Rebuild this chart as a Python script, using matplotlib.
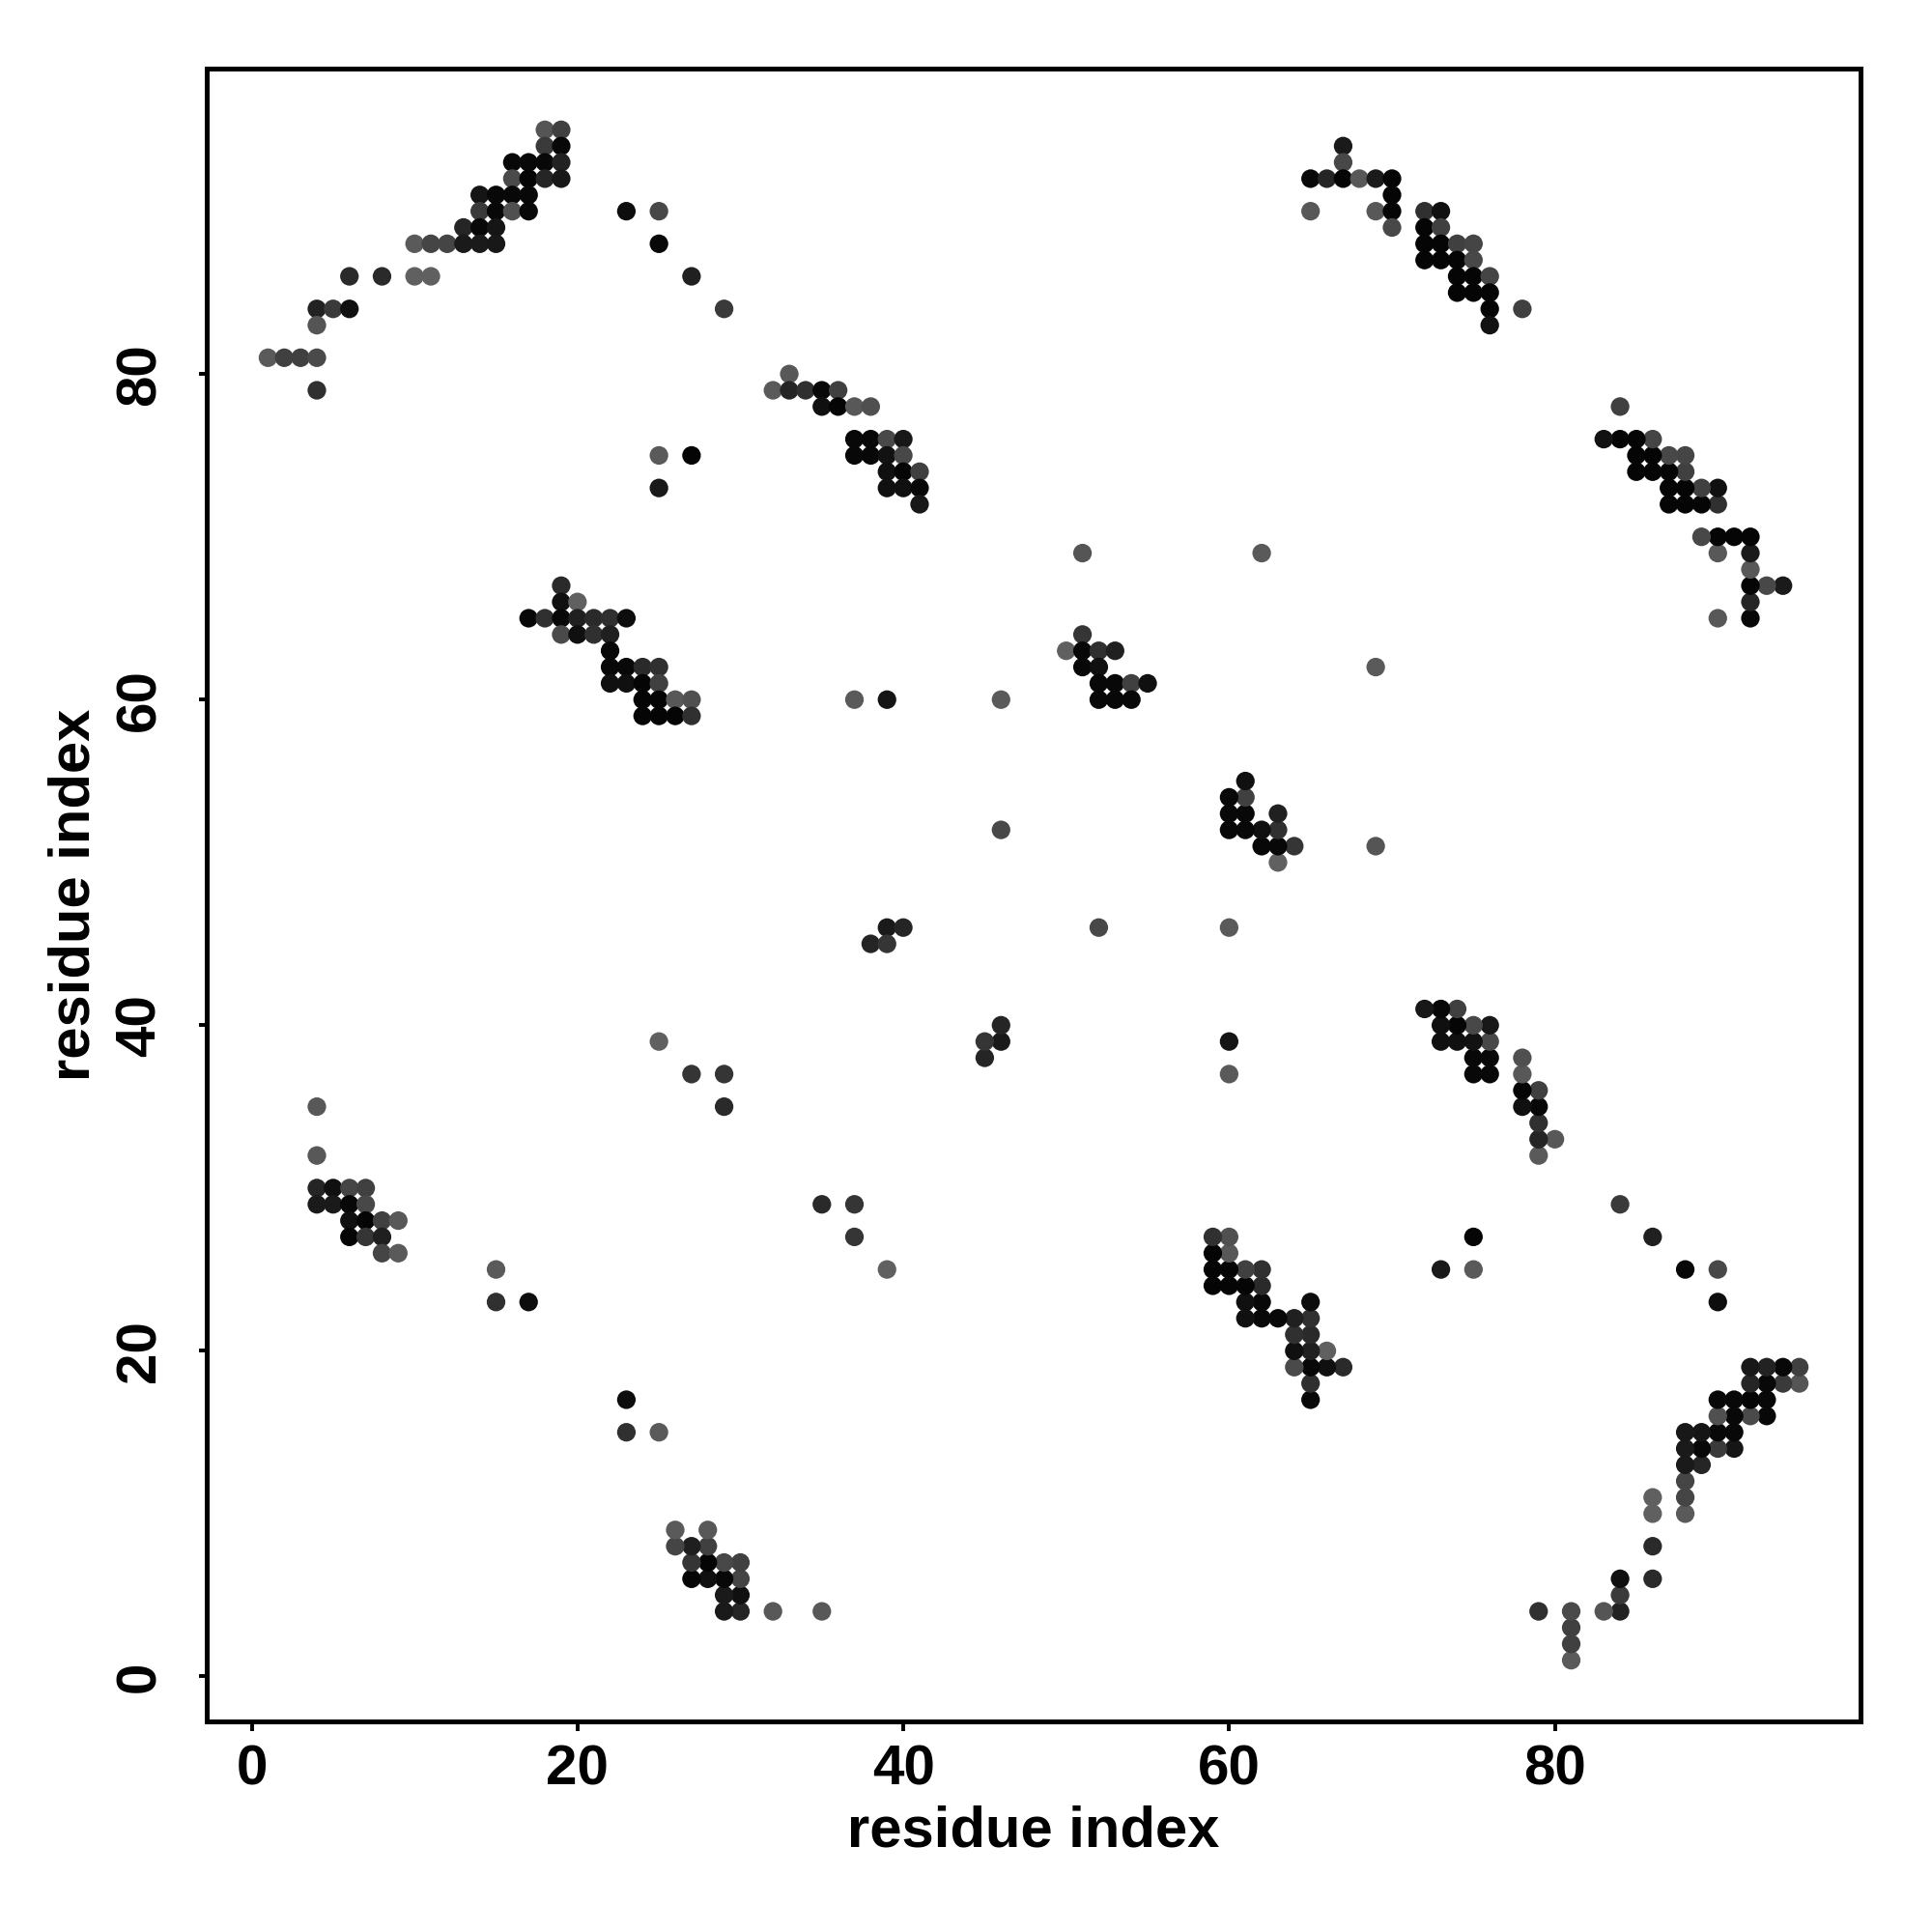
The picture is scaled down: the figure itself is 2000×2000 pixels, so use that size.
import matplotlib
matplotlib.use('Agg')
import matplotlib.pyplot as plt
import numpy as np


# contacts read off the upper-left half of the map (the map is symmetric)
# res_i < res_j ; grey = grey level of the dot (0 = black, 255 = white)
res_i = [18, 19, 18, 19, 16, 17, 18, 19, 16, 17, 18, 19,
         14, 15, 16, 17, 14, 15, 16, 17, 13, 14, 15,
         10, 11, 12, 13, 14, 15, 6, 8, 10, 11, 4, 5, 6, 4,
         1, 2, 3, 4, 4,
         23, 25, 25, 27, 29,
         33, 32, 33, 34, 35, 36, 35, 36, 37, 38,
         37, 38, 39, 40, 37, 38, 39, 40, 39, 40, 41, 39, 40, 41, 41,
         25, 27, 25,
         19, 19, 20, 17, 18, 19, 20, 21, 22, 23, 19, 20, 21, 22, 22,
         22, 23, 24, 25, 22, 23, 24, 25, 24, 25, 26, 27, 24, 25, 26, 27,
         37, 39, 46, 46,
         4, 4, 4, 5, 6, 7, 4, 5, 6, 7, 6, 7, 8, 9, 6, 7, 8, 8, 9,
         15, 15, 17,
         39, 40, 38, 39, 25, 27, 29, 29,
         67, 67, 65, 66, 67, 68, 69, 70, 70, 65, 69, 70, 70,
         72, 73, 72, 73, 72, 73, 74, 75, 72, 73, 74, 75,
         74, 75, 76, 74, 75, 76, 76, 78, 76,
         51, 62, 51, 50, 51, 52, 53, 51, 52, 52, 53, 54, 55, 52, 53, 54]
res_j = [95, 95, 94, 94, 93, 93, 93, 93, 92, 92, 92, 92,
         91, 91, 91, 91, 90, 90, 90, 90, 89, 89, 89,
         88, 88, 88, 88, 88, 88, 86, 86, 86, 86, 84, 84, 84, 83,
         81, 81, 81, 81, 79,
         90, 90, 88, 86, 84,
         80, 79, 79, 79, 79, 79, 78, 78, 78, 78,
         76, 76, 76, 76, 75, 75, 75, 75, 74, 74, 74, 73, 73, 73, 72,
         75, 75, 73,
         67, 66, 66, 65, 65, 65, 65, 65, 65, 65, 64, 64, 64, 64, 63,
         62, 62, 62, 62, 61, 61, 61, 61, 60, 60, 60, 60, 59, 59, 59, 59,
         60, 60, 60, 52,
         35, 32, 30, 30, 30, 30, 29, 29, 29, 29, 28, 28, 28, 28, 27, 27, 27, 26, 26,
         25, 23, 23,
         46, 46, 45, 45, 39, 37, 37, 35,
         94, 93, 92, 92, 92, 92, 92, 92, 91, 90, 90, 90, 89,
         90, 90, 89, 89, 88, 88, 88, 88, 87, 87, 87, 87,
         86, 86, 86, 85, 85, 85, 84, 84, 83,
         69, 69, 64, 63, 63, 63, 63, 62, 62, 61, 61, 61, 61, 60, 60, 60]
grey = [0x55, 0x40, 0x3a, 0x08, 0x08, 0x08, 0x08, 0x22, 0x4a, 0x05, 0x25, 0x18,
        0x15, 0x08, 0x08, 0x08, 0x3a, 0x08, 0x50, 0x08, 0x25, 0x08, 0x15,
        0x5a, 0x45, 0x45, 0x1a, 0x1a, 0x18, 0x2a, 0x2a, 0x60, 0x60, 0x22, 0x3a, 0x10, 0x55,
        0x5a, 0x40, 0x40, 0x4a, 0x30,
        0x0d, 0x48, 0x08, 0x20, 0x3a,
        0x58, 0x5a, 0x25, 0x30, 0x08, 0x40, 0x10, 0x05, 0x58, 0x50,
        0x08, 0x08, 0x48, 0x18, 0x08, 0x08, 0x12, 0x48, 0x10, 0x05, 0x40, 0x10, 0x10, 0x08, 0x18,
        0x5a, 0x05, 0x1a,
        0x2a, 0x10, 0x60, 0x08, 0x30, 0x08, 0x20, 0x2a, 0x30, 0x0d, 0x4a, 0x10, 0x30, 0x20, 0x08,
        0x08, 0x08, 0x2a, 0x30, 0x10, 0x10, 0x05, 0x40, 0x05, 0x05, 0x58, 0x50, 0x05, 0x05, 0x05, 0x30,
        0x5a, 0x15, 0x5a, 0x48,
        0x58, 0x58, 0x25, 0x10, 0x45, 0x40, 0x1a, 0x1a, 0x08, 0x48, 0x10, 0x05, 0x40, 0x58, 0x05, 0x35, 0x1f, 0x45, 0x5a,
        0x5a, 0x30, 0x0d,
        0x1a, 0x25, 0x25, 0x35, 0x60, 0x35, 0x35, 0x2a,
        0x1a, 0x48, 0x08, 0x25, 0x05, 0x58, 0x1a, 0x05, 0x05, 0x58, 0x58, 0x05, 0x48,
        0x30, 0x10, 0x05, 0x40, 0x05, 0x05, 0x40, 0x45, 0x05, 0x05, 0x05, 0x48,
        0x05, 0x05, 0x45, 0x05, 0x05, 0x05, 0x05, 0x40, 0x12,
        0x55, 0x5a, 0x35, 0x60, 0x08, 0x30, 0x20, 0x08, 0x10, 0x08, 0x08, 0x40, 0x10, 0x08, 0x08, 0x08]

ticks = [0, 20, 40, 60, 80]

plt.rcParams['font.family'] = ['Liberation Sans', 'DejaVu Sans']
plt.rcParams['font.weight'] = 'bold'

fig = plt.figure(figsize=(10, 10), dpi=200)
ax = fig.add_axes([0.107, 0.109, 0.856, 0.8555])

# both halves of the symmetric map
xs = np.concatenate([res_i, res_j])
ys = np.concatenate([res_j, res_i])
g = np.concatenate([grey, grey]) / 255.0
colors = [(v, v, v) for v in g]
ax.scatter(xs, ys, s=48, c=colors, linewidths=0)

ax.set_xlim(-2.76, 98.76)
ax.set_ylim(-2.76, 98.76)
ax.set_xticks(ticks)
ax.set_yticks(ticks)
ax.set_xticklabels([str(t) for t in ticks], fontsize=21, fontweight='bold')
ax.set_yticklabels([str(t) for t in ticks], fontsize=21, fontweight='bold',
                   rotation=90, va='center')
ax.tick_params(axis='x', length=3.6, width=1.4, pad=5)
ax.tick_params(axis='y', length=3.0, width=1.4, pad=12)
for sp in ax.spines.values():
    sp.set_linewidth(1.8)

ax.set_xlabel('residue index', fontsize=21.5, fontweight='bold', labelpad=3)
ax.set_ylabel('residue index', fontsize=21.5, fontweight='bold', labelpad=5)

plt.savefig('out.png', dpi=200)
